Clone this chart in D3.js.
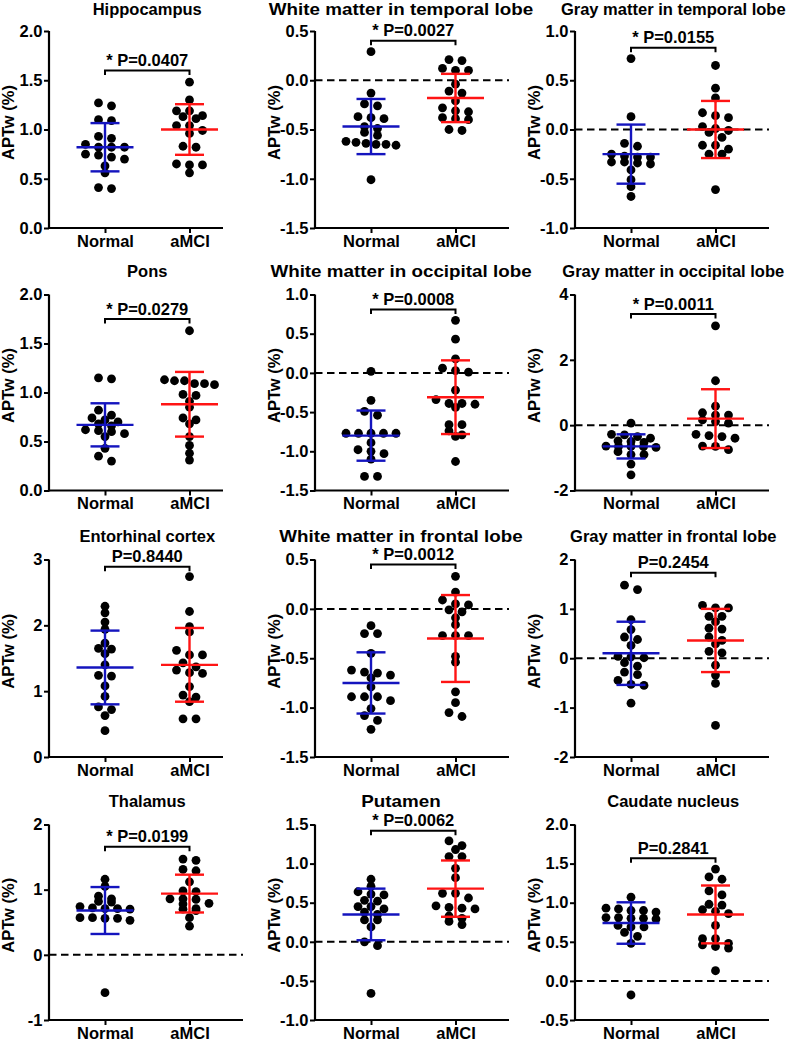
<!DOCTYPE html>
<html>
<head>
<meta charset="utf-8">
<script src="https://cdn.jsdelivr.net/npm/d3@7"></script>
<style>
  html,body{margin:0;padding:0;background:#fff;}
  svg{display:block;font-family:"Liberation Sans",Arial,sans-serif;font-weight:bold;}
</style>
</head>
<body>
<svg id="chart" width="787" height="1041"></svg>
<script>
// ---------------- DATA ----------------
const categories = ["Normal", "aMCI"];

const titles = [
  "Hippocampus", "White matter in temporal lobe", "Gray matter in temporal lobe",
  "Pons", "White matter in occipital lobe", "Gray matter in occipital lobe",
  "Entorhinal cortex", "White matter in frontal lobe", "Gray matter in frontal lobe",
  "Thalamus", "Putamen", "Caudate nucleus"
];

const pLabels = [
  "* P=0.0407", "* P=0.0027", "* P=0.0155",
  "* P=0.0279", "* P=0.0008", "* P=0.0011",
  "P=0.8440", "* P=0.0012", "P=0.2454",
  "* P=0.0199", "* P=0.0062", "P=0.2841"
];

const yDomains = [
  [0, 2], [-1.5, 0.5], [-1, 1],
  [0, 2], [-1.5, 1], [-2, 4],
  [0, 3], [-1.5, 0.5], [-2, 2],
  [-1, 2], [-1, 1.5], [-0.5, 2]
];

const yTicks = [
  [0, 0.5, 1, 1.5, 2], [-1.5, -1, -0.5, 0, 0.5], [-1, -0.5, 0, 0.5, 1],
  [0, 0.5, 1, 1.5, 2], [-1.5, -1, -0.5, 0, 0.5, 1], [-2, 0, 2, 4],
  [0, 1, 2, 3], [-1.5, -1, -0.5, 0, 0.5], [-2, -1, 0, 1, 2],
  [-1, 0, 1, 2], [-1, -0.5, 0, 0.5, 1, 1.5], [-0.5, 0, 0.5, 1, 1.5, 2]
];

const tickDecimals = [1, 1, 1, 1, 1, 0, 0, 1, 0, 0, 1, 1];

const bracketValues = [1.60, 0.40, 0.83, 1.75, 0.81, 3.40, 2.89, 0.45, 1.73, 1.66, 1.42, 1.57];

const normalMeans = [0.82, -0.47, -0.25, 0.67, -0.80, -0.65, 1.36, -0.75, 0.10, 0.68, 0.35, 0.74];
const normalSDs   = [0.245, 0.28, 0.30, 0.22, 0.32, 0.37, 0.56, 0.31, 0.64, 0.36, 0.33, 0.265];
const amciMeans   = [1.00, -0.18, 0.00, 0.88, -0.31, 0.20, 1.40, -0.30, 0.36, 0.94, 0.68, 0.85];
const amciSDs     = [0.257, 0.245, 0.29, 0.33, 0.47, 0.90, 0.56, 0.44, 0.64, 0.29, 0.36, 0.37];

const normalValues = [
  [1.27,1.24,1.10,1.09,0.93,0.91,0.85,0.82,0.82,0.82,0.75,0.74,0.72,0.70,0.63,0.56,0.41,0.40],
  [0.29,-0.13,-0.24,-0.26,-0.37,-0.38,-0.39,-0.47,-0.49,-0.53,-0.56,-0.62,-0.63,-0.64,-0.65,-0.65,-0.66,-1.01],
  [0.72,0.13,-0.14,-0.17,-0.25,-0.27,-0.28,-0.28,-0.33,-0.33,-0.34,-0.35,-0.41,-0.51,-0.58,-0.68],
  [1.15,1.14,0.82,0.77,0.74,0.72,0.70,0.68,0.66,0.62,0.61,0.60,0.58,0.55,0.43,0.35,0.30],
  [0.02,-0.35,-0.49,-0.54,-0.77,-0.77,-0.77,-0.77,-0.77,-0.89,-0.98,-1.00,-1.03,-1.10,-1.32,-1.32],
  [0.06,-0.28,-0.30,-0.35,-0.40,-0.48,-0.50,-0.53,-0.64,-0.65,-0.65,-0.66,-0.68,-0.81,-0.90,-0.90,-1.19,-1.52],
  [2.29,2.19,2.05,1.94,1.73,1.65,1.64,1.57,1.40,1.24,1.23,1.08,0.92,0.76,0.72,0.63,0.40],
  [-0.17,-0.25,-0.25,-0.45,-0.62,-0.64,-0.65,-0.67,-0.70,-0.79,-0.89,-0.89,-0.89,-0.93,-1.01,-1.08,-1.13,-1.22],
  [1.48,1.39,0.78,0.58,0.43,0.38,0.26,0.04,0.03,0.01,-0.09,-0.16,-0.28,-0.33,-0.45,-0.53,-0.55,-0.91],
  [1.16,1.05,0.90,0.86,0.82,0.81,0.74,0.72,0.71,0.71,0.70,0.57,0.57,0.56,0.56,0.53,-0.58],
  [0.80,0.71,0.64,0.61,0.60,0.53,0.52,0.45,0.45,0.42,0.38,0.35,0.28,0.28,0.19,0.00,-0.05,-0.66],
  [1.07,0.93,0.92,0.90,0.90,0.88,0.81,0.81,0.80,0.80,0.79,0.71,0.69,0.69,0.62,0.57,0.48,-0.18]
];

const amciValues = [
  [1.48,1.30,1.19,1.19,1.14,1.13,1.11,1.04,1.04,0.99,0.96,0.83,0.82,0.65,0.64,0.64,0.56],
  [0.21,0.20,0.12,0.10,0.10,-0.04,-0.11,-0.13,-0.21,-0.28,-0.31,-0.32,-0.38,-0.39,-0.40,-0.50,-0.51],
  [0.65,0.42,0.32,0.17,0.14,0.12,0.03,0.01,-0.01,-0.03,-0.08,-0.16,-0.16,-0.20,-0.25,-0.25,-0.61],
  [1.63,1.13,1.12,1.12,1.09,1.09,1.08,0.98,0.97,0.91,0.85,0.74,0.72,0.68,0.55,0.46,0.38,0.31],
  [0.67,0.43,0.18,0.06,0.03,0.01,-0.22,-0.34,-0.39,-0.39,-0.40,-0.44,-0.66,-0.66,-0.74,-0.79,-0.81,-1.13],
  [3.04,1.36,0.58,0.38,0.31,0.31,0.16,0.11,0.06,-0.28,-0.32,-0.35,-0.40,-0.64,-0.65,-0.75],
  [2.74,2.21,1.98,1.90,1.62,1.55,1.55,1.43,1.37,1.32,1.28,1.27,1.07,0.94,0.91,0.84,0.58,0.58],
  [0.33,0.17,0.09,0.05,0.04,-0.01,-0.03,-0.09,-0.16,-0.27,-0.27,-0.27,-0.48,-0.54,-0.84,-0.95,-1.05,-1.09],
  [1.07,1.02,1.02,0.85,0.85,0.74,0.61,0.59,0.43,0.36,0.29,0.14,0.11,-0.14,-0.34,-0.51,-1.36],
  [1.47,1.45,1.31,1.29,1.12,0.98,0.97,0.86,0.86,0.85,0.79,0.78,0.71,0.70,0.68,0.57,0.44],
  [1.29,1.23,1.18,1.09,1.09,0.94,0.82,0.62,0.62,0.56,0.46,0.44,0.43,0.42,0.33,0.30,0.26,0.22],
  [1.43,1.33,1.30,1.15,1.10,0.98,0.97,0.91,0.89,0.86,0.71,0.54,0.54,0.48,0.46,0.44,0.42,0.13]
];

// ---------------- LAYOUT ----------------
const colNormalX = [105, 371, 631];
const catGap = 84.5;
const axisOffset = 56;
const rowTop = [31, 294.5, 559.5, 824.5];
const rowBottom = [228, 490.5, 757, 1020];
const FS = 16.5;
const colors = {Normal: "#1414be", aMCI: "#ff1414"};

const svg = d3.select("#chart");

function fmt(dec) {
  return v => {
    const s = v.toFixed(dec);
    return s === "-0.0" ? "0.0" : s;
  };
}

// Prism-like scatter: bin points into rows, spread each row symmetrically
function swarm(vals, cx, y) {
  const pys = vals.map(v => y(v)).sort((a, b) => a - b);
  const binH = 5.05, slot = 13, halfMax = 25;
  const bins = [];
  let cur = null;
  pys.forEach(py => {
    if (!cur || py - cur[0] > binH) { cur = [py]; bins.push(cur); }
    else cur.push(py);
  });
  const out = [];
  bins.forEach(b => {
    const n = b.length;
    const s = n > 1 ? Math.min(slot, 2 * halfMax / (n - 1)) : 0;
    b.forEach((py, j) => out.push({x: cx + (j - (n - 1) / 2) * s, y: py}));
  });
  return out;
}

titles.forEach((title, i) => {
  const row = Math.floor(i / 3), col = i % 3;
  const nx = colNormalX[col];
  const axisX = nx - axisOffset;
  const axisLen = yDomains[i][0] < 0 ? 194 : 174;
  const top = rowTop[row], bottom = rowBottom[row];

  const x = d3.scalePoint().domain(categories).range([nx, nx + catGap]);
  const y = d3.scaleLinear().domain(yDomains[i]).range([bottom, top]);

  const g = svg.append("g");

  // title
  const titleX = col === 1 ? 401 : nx + catGap / 2;
  const titleY = Math.max(15, top - 17.5);
  g.append("text")
    .attr("text-anchor", "middle")
    .attr("font-size", FS)
    .attr("fill", "#000")
    .attr("transform", col === 1
      ? `translate(${titleX},${titleY}) scale(1.14,1)`
      : `translate(${titleX},${titleY})`)
    .text(title);

  // dashed zero line
  if (yDomains[i][0] < 0) {
    g.append("line")
      .attr("x1", axisX).attr("x2", axisX + axisLen)
      .attr("y1", y(0)).attr("y2", y(0))
      .attr("stroke", "#000").attr("stroke-width", 2)
      .attr("stroke-dasharray", "7.5,4.5");
  }

  // y axis
  const ya = g.append("g")
    .attr("transform", `translate(${axisX},0)`)
    .call(d3.axisLeft(y).tickValues(yTicks[i]).tickFormat(fmt(tickDecimals[i]))
      .tickSize(5).tickSizeOuter(0).tickPadding(1.5));
  ya.select(".domain").attr("stroke-width", 2.2).attr("d", `M0,${bottom + 1}V${top}`);
  ya.selectAll(".tick line").attr("stroke-width", 2);
  ya.selectAll(".tick text").attr("font-size", FS).attr("font-family", null).attr("fill", "#000");

  // x axis
  const xa = g.append("g")
    .attr("transform", `translate(0,${bottom})`)
    .call(d3.axisBottom(x).tickSize(5).tickSizeOuter(0).tickPadding(2));
  xa.select(".domain").attr("stroke-width", 2.2).attr("d", `M${axisX - 1},0H${axisX + axisLen}`);
  xa.selectAll(".tick line").attr("stroke-width", 2);
  xa.selectAll(".tick text").attr("font-size", FS).attr("font-family", null).attr("fill", "#000");
  g.selectAll(".domain, .tick line").attr("stroke", "#000");

  // y label
  g.append("text")
    .attr("transform", `translate(${nx - 91},${(top + bottom) / 2 - 7}) rotate(-90)`)
    .attr("text-anchor", "middle")
    .attr("font-size", FS)
    .attr("fill", "#000")
    .text("APTw (%)");

  // dots
  const groups = [
    {cat: "Normal", vals: normalValues[i], mean: normalMeans[i], sd: normalSDs[i]},
    {cat: "aMCI", vals: amciValues[i], mean: amciMeans[i], sd: amciSDs[i]}
  ];
  groups.forEach(gr => {
    const pts = swarm(gr.vals, x(gr.cat), y);
    g.append("g").selectAll("circle").data(pts).join("circle")
      .attr("cx", d => d.x).attr("cy", d => d.y).attr("r", 4.4).attr("fill", "#000");
  });

  // error bars (mean ± SD)
  groups.forEach(gr => {
    const cx = x(gr.cat);
    const eg = g.append("g").attr("stroke", colors[gr.cat]).attr("stroke-width", 2.4).attr("fill", "none");
    eg.append("line").attr("x1", cx).attr("x2", cx).attr("y1", y(gr.mean + gr.sd)).attr("y2", y(gr.mean - gr.sd));
    [gr.mean + gr.sd, gr.mean - gr.sd].forEach(v => {
      eg.append("line").attr("x1", cx - 14.5).attr("x2", cx + 14.5).attr("y1", y(v)).attr("y2", y(v));
    });
    eg.append("line").attr("x1", cx - 28.5).attr("x2", cx + 28.5).attr("y1", y(gr.mean)).attr("y2", y(gr.mean));
  });

  // bracket + p label
  const by = y(bracketValues[i]);
  const x0 = x("Normal"), x1 = x("aMCI");
  g.append("path")
    .attr("d", `M${x0},${by + 4.5}V${by}H${x1}V${by + 4.5}`)
    .attr("fill", "none").attr("stroke", "#000").attr("stroke-width", 2);
  g.append("text")
    .attr("x", (x0 + x1) / 2).attr("y", by - 4.5)
    .attr("text-anchor", "middle").attr("font-size", FS).attr("fill", "#000")
    .text(pLabels[i]);
});
</script>
</body>
</html>
